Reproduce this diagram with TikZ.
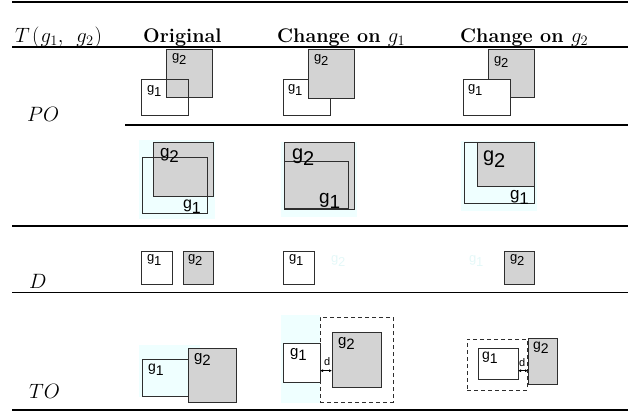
\documentclass[tikz,border=0pt]{standalone}
\usepackage{fontspec}
\newfontfamily\arialf{Liberation Sans}
\usetikzlibrary{fit,arrows.meta}
\definecolor{gfill}{HTML}{D3D3D3}
\definecolor{edgec}{HTML}{2E2E2E}
\definecolor{bgcyan}{HTML}{EFFFFF}
\definecolor{ghostc}{HTML}{E4F8F8}
\newcommand\glab[1]{g\raisebox{-0.3em}{#1}}
\tikzset{
  x=1pt, y=-1pt,
  box/.style={draw=edgec, line width=1pt, inner sep=0pt, outer sep=0pt},
  gbox/.style={box, fill=gfill},
  wbox/.style={box, fill=white},
  obox/.style={box},
  dbox/.style={draw=edgec, line width=1pt, dash pattern=on 4pt off 3pt, inner sep=0pt, outer sep=0pt},
  bgbox/.style={fill=bgcyan, draw=none, inner sep=0pt, outer sep=0pt},
  lab/.style={anchor=north west, inner sep=0pt, outer sep=0pt, text=black, font=\arialf\fontsize{#1}{#1}\selectfont},
  ghost/.style={lab=#1, text=ghostc},
  head/.style={anchor=base west, inner sep=0pt, font=\fontsize{19.7}{24}\selectfont},
  rulethick/.style={line width=2pt, black},
  rulethin/.style={line width=1.5pt, black},
  darrow/.style={{Latex[length=3pt,width=3pt]}-{Latex[length=3pt,width=3pt]}, line width=0.8pt, black},
}
\begin{document}
\begin{tikzpicture}
\useasboundingbox (0,0) rectangle (642,414);
% rules
\coordinate (r0a) at (12,2);   \coordinate (r0b) at (628,2);
\coordinate (r1a) at (12,47); \coordinate (r1b) at (628,47);
\coordinate (r2a) at (125,125.5); \coordinate (r2b) at (628,125.5);
\coordinate (r3a) at (12,225.7); \coordinate (r3b) at (628,225.7);
\coordinate (r4a) at (12,292.3); \coordinate (r4b) at (628,292.3);
\coordinate (r5a) at (12,410); \coordinate (r5b) at (628,410);
\draw[rulethick] (r0a) -- (r0b);
\draw[rulethin] (r1a) -- (r1b);
\draw[rulethick] (r2a) -- (r2b);
\draw[rulethick] (r3a) -- (r3b);
\draw[rulethin] (r4a) -- (r4b);
\draw[rulethick] (r5a) -- (r5b);
% header
\node[head, font=\fontsize{21}{24}\selectfont] (h0) at (15,42.5) {$T\mkern2mu(\mkern1mu g_1,\;\mkern3mu g_2\mkern1mu)$};
\node[head] (h1) at (143,42.5) {\bfseries Original};
\node[head] (h2) at (277,42.5) {\bfseries Change on $g_1$};
\node[head] (h3) at (460,42.5) {\bfseries Change on $g_2$};
% row labels
\node[head] (lPO) at (27,122) {$PO$};
\node[head] (lD) at (29,288.5) {$D$};
\node[head] (lTO) at (29,398) {$TO$};

% ---------- PO top ----------
\node[gbox, fit={(166,50)(212,98)}] (a1g2) {};
\node[obox, fit={(141,80)(188,116)}] (a1g1) {};
\node[lab=13] (a1t2) at (172,54) {\glab{2}};
\node[lab=13] (a1t1) at (147,86) {\glab{1}};

\node[wbox, fit={(283,80)(330,116)}] (b1g1) {};
\node[gbox, fit={(308,50)(354,99)}] (b1g2) {};
\node[lab=13] (b1t2) at (314,55) {\glab{2}};
\node[lab=13] (b1t1) at (288,85) {\glab{1}};

\node[gbox, fit={(488,50)(534,98)}] (c1g2) {};
\node[wbox, fit={(463,80)(510,116)}] (c1g1) {};
\node[lab=13] (c1t2) at (494,57) {\glab{2}};
\node[lab=13] (c1t1) at (468,85) {\glab{1}};

% ---------- PO bottom ----------
\node[bgbox, fit={(139,140)(215,219)}] (a2bg) {};
\node[gbox, fit={(153,143)(213,197)}] (a2g2) {};
\node[obox, fit={(142,158)(207,213)}] (a2g1) {};
\node[lab=17] (a2t2) at (160,148) {\glab{2}};
\node[lab=16] (a2t1) at (183,200) {\glab{1}};

\node[bgbox, fit={(281,142)(357,217)}] (b2bg) {};
\node[gbox, fit={(284,143)(354,209)}] (b2g2) {};
\node[obox, fit={(284,162)(348,208)}] (b2g1) {};
\node[lab=20] (b2t2) at (292,149) {\glab{2}};
\node[lab=19] (b2t1) at (319,193) {\glab{1}};

\node[bgbox, fit={(461,141)(537,211)}] (c2bg) {};
\node[obox, fit={(464,143)(534,203)}] (c2g1) {};
\node[gbox, fit={(477,143)(534,187)}] (c2g2) {};
\node[lab=20] (c2t2) at (483,151) {\glab{2}};
\node[lab=17] (c2t1) at (510,190) {\glab{1}};

% ---------- D ----------
\node[wbox, fit={(141,251)(172,284)}] (a3g1) {};
\node[gbox, fit={(183,251)(213,284)}] (a3g2) {};
\node[lab=13] (a3t1) at (147,255) {\glab{1}};
\node[lab=13] (a3t2) at (188,255) {\glab{2}};

\node[wbox, fit={(283,251)(314,284)}] (b3g1) {};
\node[lab=13] (b3t1) at (289,255) {\glab{1}};
\node[ghost=13] (b3t2) at (331,256) {\glab{2}};

\node[ghost=13] (c3t1) at (469,256) {\glab{1}};
\node[gbox, fit={(504,251)(534,284)}] (c3g2) {};
\node[lab=13] (c3t2) at (510,255) {\glab{2}};

% ---------- TO ----------
\node[bgbox, fit={(139,345)(200,397)}] (a4bg) {};
\node[obox, fit={(142,359)(188,396)}] (a4g1) {};
\node[gbox, fit={(188,348)(236,402)}] (a4g2) {};
\node[lab=14] (a4t1) at (148,364) {\glab{1}};
\node[lab=15] (a4t2) at (194,353) {\glab{2}};

\node[bgbox, fit={(281,315)(320,403)}] (b4bg) {};
\node[wbox, fit={(283,343)(320,382)}] (b4g1) {};
\node[dbox, fit={(320,317)(393,402)}] (b4d) {};
\node[gbox, fit={(332,332)(381,387)}] (b4g2) {};
\node[lab=15] (b4t1) at (290,348) {\glab{1}};
\node[lab=15] (b4t2) at (338,337) {\glab{2}};
\node[lab=11] (b4td) at (324,358) {d};
\coordinate (b4l) at (320,370.7);
\coordinate (b4r) at (332,370.7);
\draw[darrow] (b4l) -- (b4r);

\node[dbox, fit={(467,339)(527,390)}] (c4d) {};
\node[wbox, fit={(478,348)(518,379)}] (c4g1) {};
\node[gbox, fit={(528,338)(557,384)}] (c4g2) {};
\node[lab=14] (c4t1) at (482,352) {\glab{1}};
\node[lab=14] (c4t2) at (533,342) {\glab{2}};
\node[lab=11] (c4td) at (519,359) {d};
\coordinate (c4l) at (518,370.7);
\coordinate (c4r) at (528,370.7);
\draw[darrow] (c4l) -- (c4r);
\end{tikzpicture}
\end{document}
